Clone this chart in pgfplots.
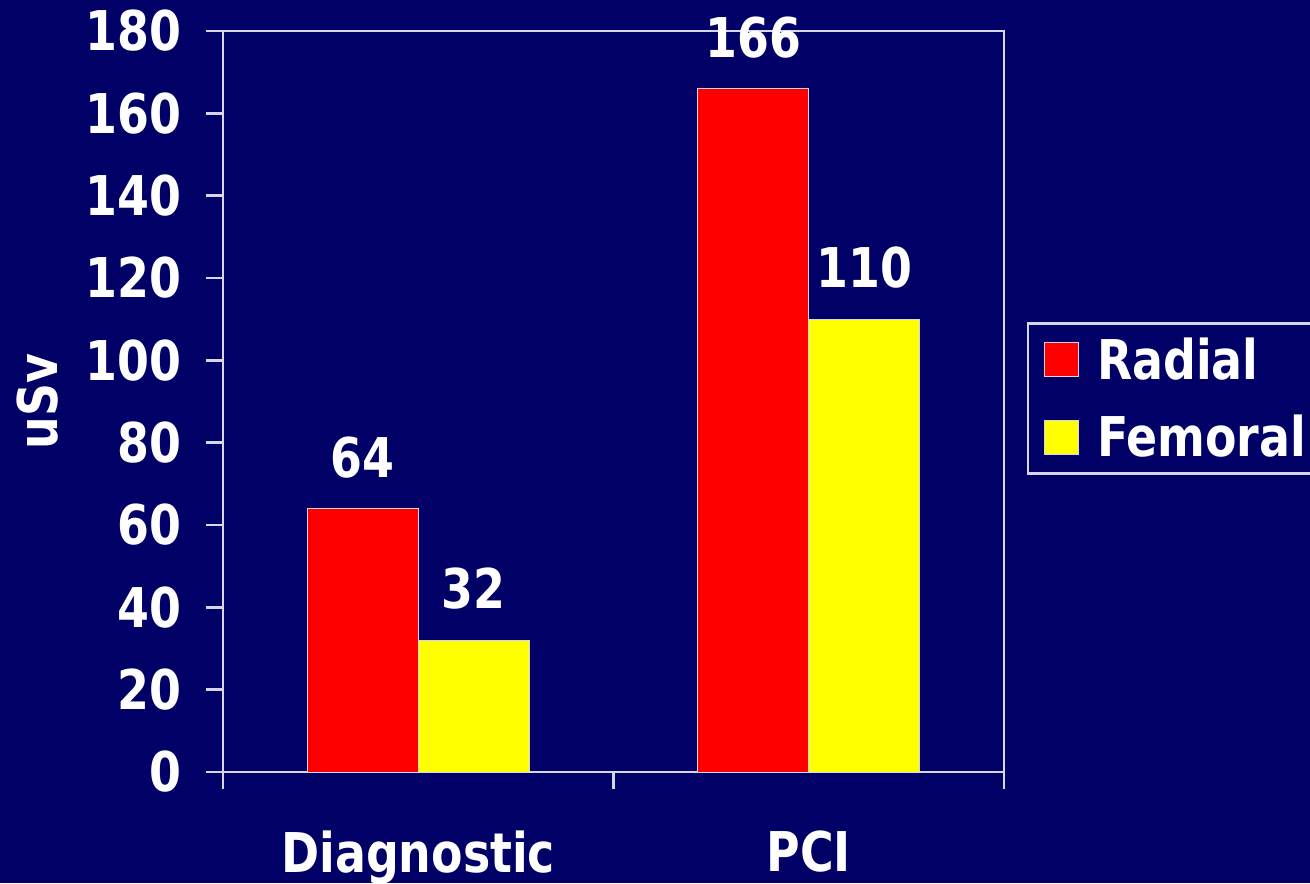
\documentclass[border=0pt]{standalone}
\usepackage{fontspec}
\setmainfont{DejaVu Sans Condensed}[FakeStretch=0.93]
\usepackage{pgfplots}
\pgfplotsset{compat=1.18}

\definecolor{bgnavy}{RGB}{0,0,102}
\definecolor{axisgrey}{RGB}{214,214,230}
\definecolor{barred}{RGB}{255,0,0}
\definecolor{baryellow}{RGB}{255,255,0}

\newcommand{\chartfont}{\fontsize{27.4}{32}\selectfont\bfseries}

\begin{document}
\begin{tikzpicture}
  % page frame (axis lower-left corner sits at the origin)
  \useasboundingbox (-111.5pt,-55.5pt) rectangle (543.5pt,386pt);
  \clip (-111.5pt,-55.5pt) rectangle (543.5pt,386pt);
  \fill[bgnavy] (-111.5pt,-55.5pt) rectangle (543.5pt,386pt);

  \begin{axis}[
    scale only axis,
    width=390.5pt, height=370.5pt,
    xmin=-0.5, xmax=1.5,
    ymin=0, ymax=180,
    ytick={0,20,...,180},
    xtick={-0.5,0.5,1.5},
    x tick label as interval,
    xticklabels={Diagnostic,PCI},
    xtick pos=bottom, ytick pos=left,
    tick align=outside,
    major tick length=8.5pt,
    /pgf/number format/assume math mode=true,
    axis line style={draw=axisgrey, line width=1.4pt},
    every tick/.style={draw=axisgrey, line width=1.4pt},
    tick label style={font=\chartfont, text=white},
    xticklabel style={yshift=-17.5pt},
    yticklabel style={xshift=-9pt},
    ylabel={uSv},
    every axis y label/.style={at={(axis description cs:-0.238,0.5)},
      rotate=90, anchor=center, font=\chartfont, text=white},
    ybar,
    bar width=55.5pt,
    nodes near coords,
    every node near coord/.append style={font=\chartfont, text=white,
      anchor=south, inner sep=0pt, yshift=15pt},
    legend style={at={(1.0294,0.504)}, anchor=west,
      fill=bgnavy, draw=axisgrey, line width=1.2pt,
      text=white, font=\chartfont,
      inner xsep=8pt, inner ysep=5pt,
      row sep=12.5pt,
      /tikz/every odd column/.append style={column sep=7pt}},
    legend image code/.code={%
      \draw[#1, draw=axisgrey, line width=0.5pt] (0pt,-8.5pt) rectangle (17pt,8.5pt);},
    legend cell align=left,
  ]
    \addplot[fill=barred, draw=axisgrey, line width=0.5pt, bar shift=-27.75pt]
      coordinates {(0,64) (1,166)};
    \addplot[fill=baryellow, draw=axisgrey, line width=0.5pt, bar shift=27.75pt]
      coordinates {(0,32) (1,110)};
    \legend{Radial,Femoral}
  \end{axis}
\end{tikzpicture}
\end{document}
